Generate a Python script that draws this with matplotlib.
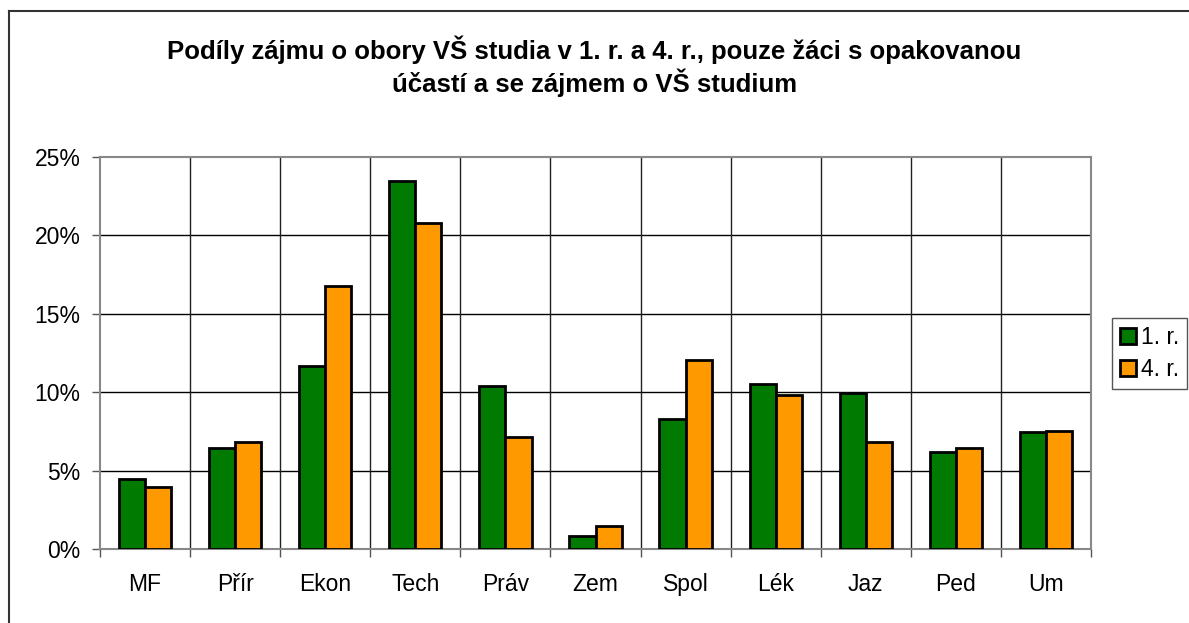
import matplotlib.pyplot as plt
import numpy as np
from matplotlib.lines import Line2D

plt.rcParams["font.family"] = ["Liberation Sans", "DejaVu Sans"]

# Data (shares in %)
categories = ["MF", "Přír", "Ekon", "Tech", "Práv", "Zem", "Spol", "Lék", "Jaz", "Ped", "Um"]
first_year = [4.45, 6.42, 11.7, 23.47, 10.42, 0.83, 8.29, 10.5, 9.93, 6.17, 7.48]
fourth_year = [3.97, 6.8, 16.8, 20.77, 7.12, 1.49, 12.05, 9.82, 6.84, 6.46, 7.53]
series_labels = ["1. r.", "4. r."]
y_ticks = [0, 5, 10, 15, 20, 25]

green_col = "#007A00"
orange_col = "#FF9900"

fig = plt.figure(figsize=(11.89, 6.23), dpi=100)
ax = fig.add_axes([100 / 1189, 1 - 549 / 623, 991 / 1189, 392 / 623])

x = np.arange(len(categories))
w = 0.29
ax.bar(x - w / 2, first_year, w, color=green_col, edgecolor="black", linewidth=2,
       label=series_labels[0], zorder=3)
ax.bar(x + w / 2, fourth_year, w, color=orange_col, edgecolor="black", linewidth=2,
       label=series_labels[1], zorder=3)

ax.set_xlim(-0.5, len(categories) - 0.5)
ax.set_ylim(0, 25)
ax.set_yticks(y_ticks)
ax.set_yticklabels([f"{t}%" for t in y_ticks])
ax.set_xticks(x)
ax.set_xticklabels(categories)
ax.set_xticks(np.arange(-0.5, len(categories)), minor=True)

ax.tick_params(axis="y", length=6, width=1, color="#555555", labelsize=16.5, pad=8)
ax.tick_params(axis="x", which="major", length=0, labelsize=16.5, pad=17)
ax.tick_params(axis="x", which="minor", length=6, width=1, color="#555555")

# Grid lines
for t in y_ticks[1:-1]:
    ax.axhline(t, color="black", linewidth=1, zorder=1)
for b in np.arange(0.5, len(categories) - 1):
    ax.axvline(b, color="#222222", linewidth=1, zorder=1)

for side in ["top", "left", "right", "bottom"]:
    ax.spines[side].set_color("#888888")
    ax.spines[side].set_linewidth(1.5)

fig.text(0.5, 1 - 50 / 623, "Podíly zájmu o obory VŠ studia v 1. r. a 4. r., pouze žáci s opakovanou",
         ha="center", va="center", fontsize=18.5, fontweight="bold")
fig.text(0.5, 1 - 83 / 623, "účastí a se zájmem o VŠ studium",
         ha="center", va="center", fontsize=18.5, fontweight="bold")

leg = fig.legend(loc="upper left", bbox_to_anchor=(1112 / 1189, 1 - 318 / 623),
                 fontsize=16.5, handlelength=0.7, handleheight=0.7, handletextpad=0.2,
                 borderpad=0.35, labelspacing=0.4, borderaxespad=0, fancybox=False,
                 framealpha=1)
leg.get_frame().set_edgecolor("#555555")
leg.get_frame().set_linewidth(1)

# Outer chart frame (left and top edges visible)
fig.add_artist(Line2D([9 / 1189, 9 / 1189], [0, 1 - 11 / 623], color="#333333", linewidth=1.5))
fig.add_artist(Line2D([9 / 1189, 1], [1 - 11 / 623, 1 - 11 / 623], color="#333333", linewidth=1.5))

fig.savefig("out.png", dpi=100)
